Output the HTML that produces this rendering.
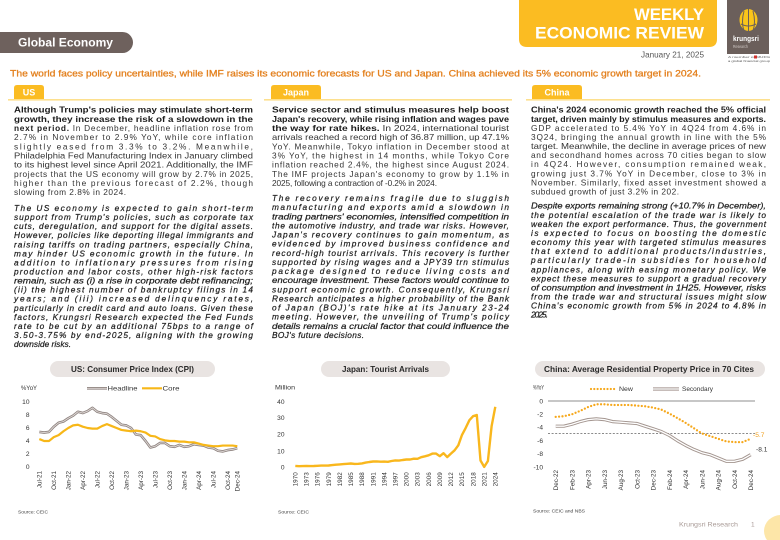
<!DOCTYPE html>
<html>
<head>
<meta charset="utf-8">
<style>
html,body{margin:0;padding:0;background:#fff;}
svg{display:block;font-family:"Liberation Sans",Arial,sans-serif;}
.t{font-size:8.3px;fill:#333;}
.b{font-weight:bold;fill:#1c1c1c;}
.i{font-size:8.3px;font-style:italic;fill:#1e1e1e;stroke:#1e1e1e;stroke-width:0.22px;}
.tk{font-size:6.6px;fill:#333;}
.xl{font-size:6.3px;fill:#333;}
.lg{font-size:6px;fill:#333;}
.src{font-size:4.8px;fill:#444;}
.pt{font-size:8.5px;font-weight:bold;fill:#2a2a2a;}
</style>
</head>
<body>
<svg width="780" height="540" viewBox="0 0 780 540" xmlns="http://www.w3.org/2000/svg">
<rect width="780" height="540" fill="#fff"/>

<!-- Header -->
<path d="M519,0 H717 V39 Q717,47 709,47 H527 Q519,47 519,39 Z" fill="#fbbc22"/>
<text x="704" y="20" text-anchor="end" font-size="16.5" font-weight="bold" fill="#fff" textLength="70" lengthAdjust="spacingAndGlyphs">WEEKLY</text>
<text x="704" y="38.5" text-anchor="end" font-size="16.5" font-weight="bold" fill="#fff" textLength="169" lengthAdjust="spacingAndGlyphs">ECONOMIC REVIEW</text>
<text x="704" y="57.5" text-anchor="end" font-size="8.3" fill="#555" textLength="63" lengthAdjust="spacingAndGlyphs">January 21, 2025</text>

<!-- logo -->
<rect x="727" y="0" width="42" height="54" fill="#6b5f5b"/>
<ellipse cx="748.5" cy="20" rx="9" ry="11" fill="#f9c51a"/>
<path d="M744,11 Q741,22 744,31 M748.5,9 V31 M753,11 Q756,22 753,31 M741,24 Q748.5,28 756,24" stroke="#6b5f5b" stroke-width="1" fill="none"/>
<text x="733" y="41" font-size="7" font-weight="bold" fill="#fff" textLength="26" lengthAdjust="spacingAndGlyphs">krungsri</text>
<text x="733" y="48" font-size="4.5" fill="#cfc7c4" textLength="15" lengthAdjust="spacingAndGlyphs">Research</text>
<text x="728" y="58" font-size="3" fill="#555" textLength="42" lengthAdjust="spacingAndGlyphs">A member of MUFG</text>
<rect x="754" y="55.5" width="3" height="3" fill="#d0312d"/>
<text x="728" y="62" font-size="3" fill="#555" textLength="42" lengthAdjust="spacingAndGlyphs">a global financial group</text>

<!-- Global Economy pill -->
<path d="M0,32 H122.5 A10.5,10.5 0 0 1 122.5,53 H0 Z" fill="#6e615d"/>
<text x="18" y="46.5" font-size="11.5" font-weight="bold" fill="#fff" textLength="95" lengthAdjust="spacingAndGlyphs">Global Economy</text>

<!-- Headline -->
<text x="10" y="76.5" font-size="9.6" fill="#e3801e" stroke="#e3801e" stroke-width="0.3" textLength="691" lengthAdjust="spacingAndGlyphs">The world faces policy uncertainties, while IMF raises its economic forecasts for US and Japan. China achieved its 5% economic growth target in 2024.</text>

<!-- Section tabs -->
<rect x="8" y="99" width="244" height="1.6" fill="#fde08e"/>
<rect x="264" y="99" width="248" height="1.6" fill="#fde08e"/>
<rect x="526" y="99" width="244" height="1.6" fill="#fde08e"/>
<path d="M14,99 V88 Q14,85 17,85 H41 Q44,85 44,88 V99 Z" fill="#fbbc22"/>
<text x="29" y="95.5" text-anchor="middle" font-size="9" font-weight="bold" fill="#fff">US</text>
<path d="M271,99 V88 Q271,85 274,85 H318 Q321,85 321,88 V99 Z" fill="#fbbc22"/>
<text x="296" y="95.5" text-anchor="middle" font-size="9" font-weight="bold" fill="#fff">Japan</text>
<path d="M532,99 V88 Q532,85 535,85 H579 Q582,85 582,88 V99 Z" fill="#fbbc22"/>
<text x="557" y="95.5" text-anchor="middle" font-size="9" font-weight="bold" fill="#fff">China</text>

<!-- US text -->
<g class="t">
<text x="14" y="112.7" class="b" textLength="239" lengthAdjust="spacingAndGlyphs">Although Trump's policies may stimulate short-term</text>
<text x="14" y="121.85" class="b" textLength="239" lengthAdjust="spacingAndGlyphs">growth, they increase the risk of a slowdown in the</text>
<text x="14" y="131.0" textLength="239" lengthAdjust="spacing"><tspan class="b">next period.</tspan> In December, headline inflation rose from</text>
<text x="14" y="140.15" textLength="239" lengthAdjust="spacing">2.7% in November to 2.9% YoY, while core inflation</text>
<text x="14" y="149.3" textLength="239" lengthAdjust="spacing">slightly eased from 3.3% to 3.2%. Meanwhile,</text>
<text x="14" y="158.45" textLength="239" lengthAdjust="spacingAndGlyphs">Philadelphia Fed Manufacturing Index in January climbed</text>
<text x="14" y="167.6" textLength="239" lengthAdjust="spacingAndGlyphs">to its highest level since April 2021. Additionally, the IMF</text>
<text x="14" y="176.75" textLength="239" lengthAdjust="spacing">projects that the US economy will grow by 2.7% in 2025,</text>
<text x="14" y="185.9" textLength="239" lengthAdjust="spacing">higher than the previous forecast of 2.2%, though</text>
<text x="14" y="195.05" textLength="112" lengthAdjust="spacing">slowing from 2.8% in 2024.</text>
</g>
<g>
<text x="14" y="211.0" class="i" textLength="239" lengthAdjust="spacing">The US economy is expected to gain short-term</text>
<text x="14" y="220.07" class="i" textLength="239" lengthAdjust="spacing">support from Trump's policies, such as corporate tax</text>
<text x="14" y="229.14" class="i" textLength="239" lengthAdjust="spacing">cuts, deregulation, and support for the digital assets.</text>
<text x="14" y="238.21" class="i" textLength="239" lengthAdjust="spacing">However, policies like deporting illegal immigrants and</text>
<text x="14" y="247.28" class="i" textLength="239" lengthAdjust="spacing">raising tariffs on trading partners, especially China,</text>
<text x="14" y="256.35" class="i" textLength="239" lengthAdjust="spacing">may hinder US economic growth in the future. In</text>
<text x="14" y="265.42" class="i" textLength="239" lengthAdjust="spacing">addition to inflationary pressures from rising</text>
<text x="14" y="274.49" class="i" textLength="239" lengthAdjust="spacing">production and labor costs, other high-risk factors</text>
<text x="14" y="283.56" class="i" textLength="239" lengthAdjust="spacingAndGlyphs">remain, such as (i) a rise in corporate debt refinancing;</text>
<text x="14" y="292.63" class="i" textLength="239" lengthAdjust="spacing">(ii) the highest number of bankruptcy filings in 14</text>
<text x="14" y="301.7" class="i" textLength="239" lengthAdjust="spacing">years; and (iii) increased delinquency rates,</text>
<text x="14" y="310.77" class="i" textLength="239" lengthAdjust="spacing">particularly in credit card and auto loans. Given these</text>
<text x="14" y="319.84" class="i" textLength="239" lengthAdjust="spacing">factors, Krungsri Research expected the Fed Funds</text>
<text x="14" y="328.91" class="i" textLength="239" lengthAdjust="spacing">rate to be cut by an additional 75bps to a range of</text>
<text x="14" y="337.98" class="i" textLength="239" lengthAdjust="spacing">3.50-3.75% by end-2025, aligning with the growing</text>
<text x="14" y="347.05" class="i" textLength="57" lengthAdjust="spacing">downside risks.</text>
</g>

<!-- Japan text -->
<g class="t">
<text x="272" y="112.7" class="b" textLength="237" lengthAdjust="spacingAndGlyphs">Service sector and stimulus measures help boost</text>
<text x="272" y="121.87" class="b" textLength="237" lengthAdjust="spacingAndGlyphs">Japan's recovery, while rising inflation and wages pave</text>
<text x="272" y="131.04" textLength="237" lengthAdjust="spacingAndGlyphs"><tspan class="b">the way for rate hikes.</tspan> In 2024, international tourist</text>
<text x="272" y="140.21" textLength="237" lengthAdjust="spacingAndGlyphs">arrivals reached a record high of 36.87 million, up 47.1%</text>
<text x="272" y="149.38" textLength="237" lengthAdjust="spacing">YoY. Meanwhile, Tokyo inflation in December stood at</text>
<text x="272" y="158.55" textLength="237" lengthAdjust="spacing">3% YoY, the highest in 14 months, while Tokyo Core</text>
<text x="272" y="167.72" textLength="237" lengthAdjust="spacing">inflation reached 2.4%, the highest since August 2024.</text>
<text x="272" y="176.89" textLength="237" lengthAdjust="spacing">The IMF projects Japan's economy to grow by 1.1% in</text>
<text x="272" y="186.06" textLength="165" lengthAdjust="spacing">2025, following a contraction of -0.2% in 2024.</text>
</g>
<g>
<text x="272" y="201.0" class="i" textLength="237" lengthAdjust="spacing">The recovery remains fragile due to sluggish</text>
<text x="272" y="210.13" class="i" textLength="237" lengthAdjust="spacing">manufacturing and exports amid a slowdown in</text>
<text x="272" y="219.26" class="i" textLength="237" lengthAdjust="spacingAndGlyphs">trading partners' economies, intensified competition in</text>
<text x="272" y="228.39" class="i" textLength="237" lengthAdjust="spacing">the automotive industry, and trade war risks. However,</text>
<text x="272" y="237.52" class="i" textLength="237" lengthAdjust="spacing">Japan's recovery continues to gain momentum, as</text>
<text x="272" y="246.65" class="i" textLength="237" lengthAdjust="spacing">evidenced by improved business confidence and</text>
<text x="272" y="255.78" class="i" textLength="237" lengthAdjust="spacing">record-high tourist arrivals. This recovery is further</text>
<text x="272" y="264.91" class="i" textLength="237" lengthAdjust="spacing">supported by rising wages and a JPY39 trn stimulus</text>
<text x="272" y="274.04" class="i" textLength="237" lengthAdjust="spacing">package designed to reduce living costs and</text>
<text x="272" y="283.17" class="i" textLength="237" lengthAdjust="spacingAndGlyphs">encourage investment. These factors would continue to</text>
<text x="272" y="292.3" class="i" textLength="237" lengthAdjust="spacing">support economic growth. Consequently, Krungsri</text>
<text x="272" y="301.43" class="i" textLength="237" lengthAdjust="spacing">Research anticipates a higher probability of the Bank</text>
<text x="272" y="310.56" class="i" textLength="237" lengthAdjust="spacing">of Japan (BOJ)'s rate hike at its January 23-24</text>
<text x="272" y="319.69" class="i" textLength="237" lengthAdjust="spacing">meeting. However, the unveiling of Trump's policy</text>
<text x="272" y="328.82" class="i" textLength="237" lengthAdjust="spacingAndGlyphs">details remains a crucial factor that could influence the</text>
<text x="272" y="337.95" class="i" textLength="92" lengthAdjust="spacing">BOJ's future decisions.</text>
</g>

<!-- China text -->
<g class="t">
<text x="531" y="112.7" class="b" textLength="235" lengthAdjust="spacingAndGlyphs">China's 2024 economic growth reached the 5% official</text>
<text x="531" y="121.78" class="b" textLength="235" lengthAdjust="spacingAndGlyphs">target, driven mainly by stimulus measures and exports.</text>
<text x="531" y="130.86" textLength="235" lengthAdjust="spacing">GDP accelerated to 5.4% YoY in 4Q24 from 4.6% in</text>
<text x="531" y="139.94" textLength="235" lengthAdjust="spacing">3Q24, bringing the annual growth in line with the 5%</text>
<text x="531" y="149.02" textLength="235" lengthAdjust="spacingAndGlyphs">target. Meanwhile, the decline in average prices of new</text>
<text x="531" y="158.1" textLength="235" lengthAdjust="spacing">and secondhand homes across 70 cities began to slow</text>
<text x="531" y="167.18" textLength="235" lengthAdjust="spacing">in 4Q24. However, consumption remained weak,</text>
<text x="531" y="176.26" textLength="235" lengthAdjust="spacing">growing just 3.7% YoY in December, close to 3% in</text>
<text x="531" y="185.34" textLength="235" lengthAdjust="spacing">November. Similarly, fixed asset investment showed a</text>
<text x="531" y="194.42" textLength="148" lengthAdjust="spacing">subdued growth of just 3.2% in 202.</text>
</g>
<g>
<text x="531" y="208.7" class="i" textLength="235" lengthAdjust="spacingAndGlyphs">Despite exports remaining strong (+10.7% in December),</text>
<text x="531" y="217.78" class="i" textLength="235" lengthAdjust="spacing">the potential escalation of the trade war is likely to</text>
<text x="531" y="226.86" class="i" textLength="235" lengthAdjust="spacing">weaken the export performance. Thus, the government</text>
<text x="531" y="235.94" class="i" textLength="235" lengthAdjust="spacing">is expected to focus on boosting the domestic</text>
<text x="531" y="245.02" class="i" textLength="235" lengthAdjust="spacing">economy this year with targeted stimulus measures</text>
<text x="531" y="254.1" class="i" textLength="235" lengthAdjust="spacing">that extend to additional products/industries,</text>
<text x="531" y="263.18" class="i" textLength="235" lengthAdjust="spacing">particularly trade-in subsidies for household</text>
<text x="531" y="272.26" class="i" textLength="235" lengthAdjust="spacing">appliances, along with easing monetary policy. We</text>
<text x="531" y="281.34" class="i" textLength="235" lengthAdjust="spacing">expect these measures to support a gradual recovery</text>
<text x="531" y="290.42" class="i" textLength="235" lengthAdjust="spacingAndGlyphs">of consumption and investment in 1H25. However, risks</text>
<text x="531" y="299.5" class="i" textLength="235" lengthAdjust="spacing">from the trade war and structural issues might slow</text>
<text x="531" y="308.58" class="i" textLength="235" lengthAdjust="spacing">China's economic growth from 5% in 2024 to 4.8% in</text>
<text x="531" y="317.66" class="i" textLength="17" lengthAdjust="spacing">2025.</text>
</g>

<!-- ===== US chart ===== -->
<rect x="50" y="361" width="165" height="16" rx="8" fill="#e9e4e2"/>
<text x="132.5" y="372" text-anchor="middle" class="pt" textLength="123" lengthAdjust="spacingAndGlyphs">US: Consumer Price Index (CPI)</text>
<text x="21" y="390" class="lg" textLength="16" lengthAdjust="spacingAndGlyphs">%YoY</text>
<line x1="87" y1="388.3" x2="107" y2="388.3" stroke="#8f8480" stroke-width="2.6"/>
<line x1="87" y1="388.3" x2="107" y2="388.3" stroke="#e0dad8" stroke-width="0.9"/>
<text x="107.5" y="390.5" class="lg" font-size="6.3" textLength="30" lengthAdjust="spacingAndGlyphs">Headline</text>
<line x1="142" y1="388.3" x2="162" y2="388.3" stroke="#f7b718" stroke-width="2.2"/>
<text x="162.5" y="390.5" class="lg" font-size="6.3" textLength="17" lengthAdjust="spacingAndGlyphs">Core</text>
<g class="tk" text-anchor="end">
<text x="29.5" y="404.2">10</text>
<text x="29.5" y="417.2">8</text>
<text x="29.5" y="430.2">6</text>
<text x="29.5" y="443.2">4</text>
<text x="29.5" y="456.2">2</text>
<text x="29.5" y="469.2">0</text>
</g>
<polyline fill="none" stroke="#8f8480" stroke-width="2.6" stroke-linejoin="round" points="39.3,431.9 44.13,432.55 48.96,431.9 53.79,426.7 58.62,422.8 63.45,421.5 68.28,418.25 73.11,415.65 77.94,411.75 82.77,413.05 87.6,411.1 92.43,407.85 97.26,411.75 102.09,413.05 106.92,413.7 111.75,416.95 116.58,420.85 121.41,424.75 126.24,425.4 131.07,428 135.9,434.5 140.73,435.15 145.56,441 150.39,447.5 155.22,446.2 160.05,442.95 164.88,442.95 169.71,446.2 174.54,446.85 179.37,444.9 184.2,446.85 189.03,446.2 193.86,444.25 198.69,444.9 203.52,445.55 208.35,447.5 213.18,448.15 218.01,450.75 222.84,451.4 227.67,450.1 232.5,449.45 237.33,448.15"/>
<polyline fill="none" stroke="#e0dad8" stroke-width="0.9" stroke-linejoin="round" points="39.3,431.9 44.13,432.55 48.96,431.9 53.79,426.7 58.62,422.8 63.45,421.5 68.28,418.25 73.11,415.65 77.94,411.75 82.77,413.05 87.6,411.1 92.43,407.85 97.26,411.75 102.09,413.05 106.92,413.7 111.75,416.95 116.58,420.85 121.41,424.75 126.24,425.4 131.07,428 135.9,434.5 140.73,435.15 145.56,441 150.39,447.5 155.22,446.2 160.05,442.95 164.88,442.95 169.71,446.2 174.54,446.85 179.37,444.9 184.2,446.85 189.03,446.2 193.86,444.25 198.69,444.9 203.52,445.55 208.35,447.5 213.18,448.15 218.01,450.75 222.84,451.4 227.67,450.1 232.5,449.45 237.33,448.15"/>
<polyline fill="none" stroke="#f7b718" stroke-width="2.2" stroke-linejoin="round" points="39.3,439.05 44.13,441 48.96,441 53.79,437.1 58.62,435.15 63.45,431.25 68.28,428 73.11,425.4 77.94,424.75 82.77,426.7 87.6,428 92.43,428.65 97.26,428.65 102.09,426.05 106.92,424.1 111.75,426.05 116.58,428 121.41,429.95 126.24,430.6 131.07,431.25 135.9,430.6 140.73,431.25 145.56,432.55 150.39,435.8 155.22,436.45 160.05,439.05 164.88,440.35 169.71,441 174.54,441 179.37,441.65 184.2,441.65 189.03,442.3 193.86,442.3 198.69,443.6 203.52,444.9 208.35,445.55 213.18,446.2 218.01,446.2 222.84,445.55 227.67,445.55 232.5,445.55 237.33,446.2"/>
<g class="xl" text-anchor="end">
<text transform="translate(41.6,471) rotate(-90)">Jul-21</text>
<text transform="translate(56.1,471) rotate(-90)">Oct-21</text>
<text transform="translate(70.6,471) rotate(-90)">Jan-22</text>
<text transform="translate(85.1,471) rotate(-90)">Apr-22</text>
<text transform="translate(99.6,471) rotate(-90)">Jul-22</text>
<text transform="translate(114.1,471) rotate(-90)">Oct-22</text>
<text transform="translate(128.5,471) rotate(-90)">Jan-23</text>
<text transform="translate(143.0,471) rotate(-90)">Apr-23</text>
<text transform="translate(157.5,471) rotate(-90)">Jul-23</text>
<text transform="translate(172.0,471) rotate(-90)">Oct-23</text>
<text transform="translate(186.5,471) rotate(-90)">Jan-24</text>
<text transform="translate(201.0,471) rotate(-90)">Apr-24</text>
<text transform="translate(215.5,471) rotate(-90)">Jul-24</text>
<text transform="translate(230.0,471) rotate(-90)">Oct-24</text>
<text transform="translate(239.6,471) rotate(-90)">Dec-24</text>
</g>
<text x="18" y="513.5" class="src" textLength="30" lengthAdjust="spacingAndGlyphs">Source: CEIC</text>

<!-- ===== Japan chart ===== -->
<rect x="321" y="361" width="129" height="16" rx="8" fill="#e9e4e2"/>
<text x="385.5" y="372" text-anchor="middle" class="pt" textLength="87" lengthAdjust="spacingAndGlyphs">Japan: Tourist Arrivals</text>
<text x="275" y="389.5" class="lg" font-size="6.4" textLength="20" lengthAdjust="spacingAndGlyphs">Million</text>
<g class="tk" text-anchor="end">
<text x="284.5" y="404">40</text>
<text x="284.5" y="420">30</text>
<text x="284.5" y="436.6">20</text>
<text x="284.5" y="453.3">10</text>
<text x="284.5" y="469.6">0</text>
</g>
<polyline fill="none" stroke="#f9b71d" stroke-width="2.4" stroke-linejoin="round" points="295.3,465.9 299.0,466.2 302.7,466.1 306.4,466.0 310.1,466.1 313.8,466.0 317.5,465.8 321.2,465.6 324.9,465.6 328.6,465.5 332.3,465.1 336.0,464.7 339.7,464.4 343.5,464.1 347.2,463.8 350.9,463.5 354.6,463.9 358.3,463.8 362.0,463.4 365.7,462.6 369.4,462.0 373.1,461.5 376.8,461.4 380.5,461.7 384.2,461.6 387.9,461.8 391.6,461.0 395.3,460.4 399.0,460.6 402.7,460.0 406.4,459.5 410.1,459.5 413.8,458.7 417.5,458.8 421.2,457.2 424.9,456.3 428.6,455.3 432.4,453.6 436.1,453.6 439.8,456.2 443.5,453.2 447.2,457.1 450.9,453.6 454.6,450.3 458.3,445.3 462.0,434.9 465.7,427.9 469.4,420.2 473.1,416.2 476.8,415.0 480.5,460.5 484.2,466.9 487.9,461.0 491.6,426.2 495.3,406.8"/>
<g class="xl" text-anchor="end">
<text transform="translate(297.5,472.3) rotate(-90)">1970</text>
<text transform="translate(308.6,472.3) rotate(-90)">1973</text>
<text transform="translate(319.7,472.3) rotate(-90)">1976</text>
<text transform="translate(330.8,472.3) rotate(-90)">1979</text>
<text transform="translate(342.0,472.3) rotate(-90)">1982</text>
<text transform="translate(353.1,472.3) rotate(-90)">1985</text>
<text transform="translate(364.2,472.3) rotate(-90)">1988</text>
<text transform="translate(375.3,472.3) rotate(-90)">1991</text>
<text transform="translate(386.4,472.3) rotate(-90)">1994</text>
<text transform="translate(397.5,472.3) rotate(-90)">1997</text>
<text transform="translate(408.6,472.3) rotate(-90)">2000</text>
<text transform="translate(419.7,472.3) rotate(-90)">2003</text>
<text transform="translate(430.9,472.3) rotate(-90)">2006</text>
<text transform="translate(442.0,472.3) rotate(-90)">2009</text>
<text transform="translate(453.1,472.3) rotate(-90)">2012</text>
<text transform="translate(464.2,472.3) rotate(-90)">2015</text>
<text transform="translate(475.3,472.3) rotate(-90)">2018</text>
<text transform="translate(486.4,472.3) rotate(-90)">2021</text>
<text transform="translate(497.5,472.3) rotate(-90)">2024</text>
</g>
<text x="278" y="513.5" class="src" textLength="31" lengthAdjust="spacingAndGlyphs">Source: CEIC</text>

<!-- ===== China chart ===== -->
<rect x="535" y="361" width="230" height="16" rx="8" fill="#e9e4e2"/>
<text x="649" y="372" text-anchor="middle" class="pt" textLength="210" lengthAdjust="spacingAndGlyphs">China: Average Residential Property Price in 70 Cites</text>
<text x="533" y="389.5" class="lg" textLength="11" lengthAdjust="spacingAndGlyphs">%YoY</text>
<line x1="591" y1="389" x2="617" y2="389" stroke="#f6a81c" stroke-width="2.2" stroke-linecap="round" stroke-dasharray="0 3.3"/>
<text x="619" y="391" class="lg" textLength="14" lengthAdjust="spacingAndGlyphs">New</text>
<line x1="653" y1="389" x2="679" y2="389" stroke="#a3958f" stroke-width="3.2"/>
<line x1="653" y1="389" x2="679" y2="389" stroke="#fff" stroke-width="1.3"/>
<text x="682" y="391" class="lg" textLength="31" lengthAdjust="spacingAndGlyphs">Secondary</text>
<g class="tk" text-anchor="end">
<text x="543" y="403.3">0</text>
<text x="543" y="416.5">-2</text>
<text x="543" y="429.6">-4</text>
<text x="543" y="442.9">-6</text>
<text x="543" y="456.2">-8</text>
<text x="543" y="469.5">-10</text>
</g>
<line x1="548" y1="401" x2="755" y2="401" stroke="#6a6a6a" stroke-width="0.8"/>
<line x1="548" y1="433.3" x2="755" y2="433.3" stroke="#444" stroke-width="0.7" stroke-dasharray="2 1.6"/>
<polyline fill="none" stroke="#a3958f" stroke-width="3.2" stroke-linejoin="round" points="555.7,426.2 563.8,426.2 571.95,424.2 580.1,421.6 588.2,419.6 596.3,418.9 604.45,419.6 612.6,421.6 620.7,422.2 628.8,422.9 636.95,423.5 645.1,426.2 653.2,428.8 661.3,431.5 669.45,435.5 677.6,440.8 685.7,445.4 693.8,449.4 701.95,452.7 710.1,454.7 718.2,458.0 726.3,461.3 734.45,461.3 742.6,459.3 750.7,454.7"/>
<polyline fill="none" stroke="#fff" stroke-width="1.3" stroke-linejoin="round" points="555.7,426.2 563.8,426.2 571.95,424.2 580.1,421.6 588.2,419.6 596.3,418.9 604.45,419.6 612.6,421.6 620.7,422.2 628.8,422.9 636.95,423.5 645.1,426.2 653.2,428.8 661.3,431.5 669.45,435.5 677.6,440.8 685.7,445.4 693.8,449.4 701.95,452.7 710.1,454.7 718.2,458.0 726.3,461.3 734.45,461.3 742.6,459.3 750.7,454.7"/>
<polyline fill="none" stroke="#f6a81c" stroke-width="2.3" stroke-linecap="round" stroke-linejoin="round" stroke-dasharray="0 3.4" points="555.7,416.9 563.8,416.2 571.95,414.3 580.1,410.9 588.2,407.0 596.3,404.3 604.45,404.3 612.6,405.0 620.7,405.0 628.8,405.0 636.95,405.6 645.1,406.3 653.2,407.6 661.3,409.6 669.45,413.6 677.6,418.2 685.7,422.9 693.8,428.2 701.95,433.5 710.1,436.1 718.2,438.8 726.3,441.4 734.45,442.1 742.6,442.1 750.7,438.8"/>
<text x="753" y="437.2" class="tk" fill="#f0a020" style="fill:#f0a020">-5.7</text>
<text x="756" y="451.5" class="tk">-8.1</text>
<g class="xl" text-anchor="end">
<text transform="translate(558.0,470) rotate(-90)">Dec-22</text>
<text transform="translate(574.3,470) rotate(-90)">Feb-23</text>
<text transform="translate(590.5,470) rotate(-90)">Apr-23</text>
<text transform="translate(606.8,470) rotate(-90)">Jun-23</text>
<text transform="translate(623.0,470) rotate(-90)">Aug-23</text>
<text transform="translate(639.3,470) rotate(-90)">Oct-23</text>
<text transform="translate(655.5,470) rotate(-90)">Dec-23</text>
<text transform="translate(671.8,470) rotate(-90)">Feb-24</text>
<text transform="translate(688.0,470) rotate(-90)">Apr-24</text>
<text transform="translate(704.3,470) rotate(-90)">Jun-24</text>
<text transform="translate(720.5,470) rotate(-90)">Aug-24</text>
<text transform="translate(736.8,470) rotate(-90)">Oct-24</text>
<text transform="translate(753.0,470) rotate(-90)">Dec-24</text>
</g>
<text x="533" y="512.5" class="src" textLength="52" lengthAdjust="spacingAndGlyphs">Source: CEIC and NBS</text>

<!-- Footer -->
<text x="679" y="526.5" font-size="6.5" fill="#a89a96" textLength="59" lengthAdjust="spacingAndGlyphs">Krungsri Research</text>
<text x="751" y="526.5" font-size="6.5" fill="#a89a96">1</text>
<ellipse cx="781" cy="531" rx="17" ry="16" fill="#fde6a8"/>
</svg>
</body>
</html>
